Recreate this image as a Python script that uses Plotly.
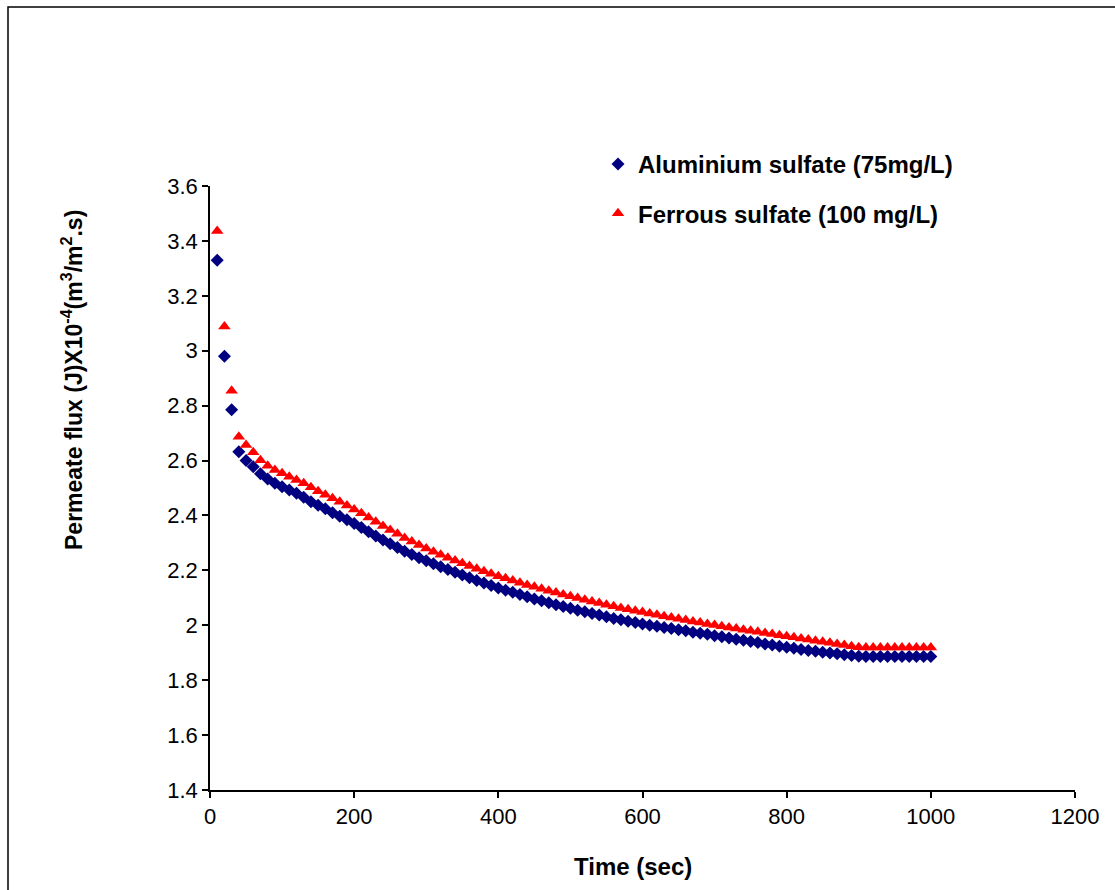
import plotly.graph_objects as go

time_sec = [10, 20, 30, 40, 50, 60, 70, 80, 90, 100,
            110, 120, 130, 140, 150, 160, 170, 180, 190, 200,
            210, 220, 230, 240, 250, 260, 270, 280, 290, 300,
            310, 320, 330, 340, 350, 360, 370, 380, 390, 400,
            410, 420, 430, 440, 450, 460, 470, 480, 490, 500,
            510, 520, 530, 540, 550, 560, 570, 580, 590, 600,
            610, 620, 630, 640, 650, 660, 670, 680, 690, 700,
            710, 720, 730, 740, 750, 760, 770, 780, 790, 800,
            810, 820, 830, 840, 850, 860, 870, 880, 890, 900,
            910, 920, 930, 940, 950, 960, 970, 980, 990, 1000]

aluminium = [3.330, 2.980, 2.785, 2.632, 2.600, 2.577, 2.552, 2.533, 2.517, 2.505,
             2.493, 2.481, 2.466, 2.450, 2.437, 2.424, 2.410, 2.397, 2.384, 2.371,
             2.356, 2.341, 2.325, 2.311, 2.297, 2.283, 2.270, 2.258, 2.246, 2.235,
             2.224, 2.213, 2.203, 2.193, 2.183, 2.173, 2.163, 2.154, 2.145, 2.136,
             2.128, 2.120, 2.112, 2.104, 2.096, 2.089, 2.082, 2.075, 2.068, 2.062,
             2.055, 2.049, 2.043, 2.037, 2.031, 2.025, 2.020, 2.015, 2.010, 2.005,
             2.000, 1.996, 1.992, 1.988, 1.984, 1.980, 1.975, 1.971, 1.967, 1.962,
             1.958, 1.954, 1.949, 1.945, 1.941, 1.937, 1.932, 1.928, 1.924, 1.920,
             1.916, 1.912, 1.908, 1.905, 1.902, 1.899, 1.896, 1.893, 1.890, 1.887,
             1.886, 1.886, 1.886, 1.886, 1.886, 1.886, 1.886, 1.886, 1.886, 1.886]

ferrous = [3.436, 3.088, 2.854, 2.687, 2.657, 2.630, 2.601, 2.581, 2.566, 2.554,
           2.541, 2.529, 2.517, 2.503, 2.488, 2.475, 2.463, 2.450, 2.436, 2.422,
           2.408, 2.393, 2.377, 2.362, 2.347, 2.333, 2.318, 2.305, 2.292, 2.280,
           2.268, 2.257, 2.246, 2.236, 2.226, 2.216, 2.206, 2.197, 2.188, 2.179,
           2.171, 2.163, 2.155, 2.147, 2.140, 2.133, 2.126, 2.119, 2.112, 2.106,
           2.099, 2.093, 2.087, 2.081, 2.075, 2.069, 2.063, 2.058, 2.053, 2.048,
           2.043, 2.038, 2.033, 2.028, 2.024, 2.019, 2.014, 2.010, 2.005, 2.001,
           1.996, 1.992, 1.988, 1.984, 1.980, 1.976, 1.972, 1.968, 1.964, 1.960,
           1.956, 1.952, 1.948, 1.944, 1.940, 1.936, 1.932, 1.928, 1.924, 1.920,
           1.919, 1.919, 1.919, 1.919, 1.919, 1.919, 1.919, 1.919, 1.919, 1.919]

x_ticks = [0, 200, 400, 600, 800, 1000, 1200]
y_ticks = [1.4, 1.6, 1.8, 2, 2.2, 2.4, 2.6, 2.8, 3, 3.2, 3.4, 3.6]

FONT = "Liberation Sans, Arial, sans-serif"

fig = go.Figure()
fig.add_trace(go.Scatter(
    x=time_sec, y=aluminium, mode="markers", name="Aluminium sulfate (75mg/L)",
    legendgroup="a",
    marker=dict(symbol="diamond", size=10, color="#000080"),
))
fig.add_trace(go.Scatter(
    x=time_sec, y=ferrous, mode="markers", name="Ferrous sulfate (100 mg/L)",
    legendgroup="b",
    marker=dict(symbol="triangle-up", size=11, color="#FF0000"),
))

axis_common = dict(
    showgrid=False, zeroline=False, showline=True, linecolor="black", linewidth=1.5,
    ticks="outside", ticklen=6, tickwidth=1.5, tickcolor="black",
    tickfont=dict(family=FONT, size=22, color="#000000"),
)

fig.update_xaxes(range=[0, 1200], tickvals=x_ticks, ticktext=[str(v) for v in x_ticks],
                 **axis_common)
fig.update_yaxes(range=[1.4, 3.6], tickvals=y_ticks, ticktext=[f"{v:g}" for v in y_ticks],
                 **axis_common)

W, H = 1115, 890
L, R, T, B = 210, 40, 186, 100
pw, ph = W - L - R, H - T - B

def px_x(p):
    return (p - L) / pw

def px_y(p):
    return (H - B - p) / ph

fig.update_layout(
    width=W, height=H,
    margin=dict(l=L, r=R, t=T, b=B),
    paper_bgcolor="white", plot_bgcolor="white",
    font=dict(family=FONT, color="#000000"),
    showlegend=True,
    legend=dict(
        x=px_x(598), y=px_y(142), xanchor="left", yanchor="top",
        font=dict(family=FONT, size=24, color="#000000", weight="bold"),
        bgcolor="rgba(0,0,0,0)", traceorder="grouped", tracegroupgap=15,
        itemsizing="trace",
    ),
    annotations=[
        dict(text="<b>Time (sec)</b>", x=px_x(633), y=px_y(866), xref="paper", yref="paper",
             xanchor="center", yanchor="middle",
             showarrow=False, font=dict(family=FONT, size=24, color="#000000")),
        dict(text="<b>Permeate flux (J)X10<sup>-4</sup>(m<sup>3</sup>/m<sup>2</sup>.s)</b>",
             x=px_x(72), y=px_y(380), xref="paper", yref="paper", textangle=-90,
             xanchor="center", yanchor="middle",
             showarrow=False, font=dict(family=FONT, size=23, color="#000000")),
    ],
    shapes=[
        dict(type="rect", xref="paper", yref="paper",
             x0=px_x(8), x1=px_x(1130), y0=px_y(7), y1=px_y(910),
             line=dict(color="black", width=1.5), fillcolor="rgba(0,0,0,0)", layer="below"),
    ],
)

fig.write_html("out.html")
